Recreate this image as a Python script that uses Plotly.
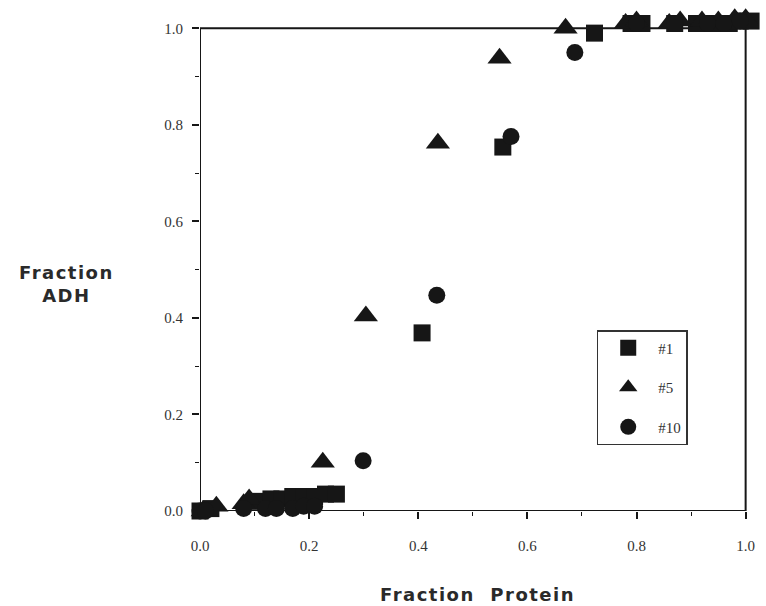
import plotly.graph_objects as go

# Fraction of ADH recovered versus fraction of total protein, three runs
x_run1 = [0.0, 0.02, 0.11, 0.13, 0.15, 0.17, 0.19, 0.21, 0.23, 0.25,
          0.407, 0.555, 0.723, 0.79, 0.81, 0.87, 0.91, 0.94, 0.97, 0.99, 1.01]
y_run1 = [0.0, 0.005, 0.02, 0.025, 0.025, 0.03, 0.03, 0.03, 0.035, 0.035,
          0.369, 0.754, 0.99, 1.01, 1.01, 1.01, 1.01, 1.01, 1.01, 1.015, 1.015]

x_run5 = [0.005, 0.03, 0.08, 0.09, 0.225, 0.304, 0.436, 0.549, 0.67,
          0.78, 0.80, 0.86, 0.88, 0.92, 0.95, 0.98, 1.0]
y_run5 = [0.0, 0.01, 0.015, 0.025, 0.101, 0.404, 0.762, 0.938, 1.0,
          1.01, 1.015, 1.01, 1.015, 1.015, 1.015, 1.02, 1.02]

x_run10 = [0.0, 0.01, 0.08, 0.12, 0.14, 0.17, 0.19, 0.21, 0.299, 0.434,
           0.57, 0.687, 0.8, 0.87, 0.93, 0.96, 0.99]
y_run10 = [0.0, 0.0, 0.005, 0.005, 0.005, 0.005, 0.01, 0.01, 0.104, 0.447,
           0.776, 0.95, 1.01, 1.01, 1.01, 1.01, 1.015]

run_names = ["#1", "#5", "#10"]
tick_vals = [0.0, 0.2, 0.4, 0.6, 0.8, 1.0]

INK = "#161616"
SERIF = "Liberation Serif"

# plot area: 0..1 spans 546 px horizontally and 483 px vertically;
# the ranges run a little past 1.0 so markers sitting on the frame stay visible
X_MAX = 1.03
Y_MAX = 1.04
PX_X = 546
PX_Y = 483

fig = go.Figure()
series = [
    (x_run1, y_run1, "square", 17),
    (x_run5, y_run5, "triangle-up", 21),
    (x_run10, y_run10, "circle", 17),
]
for name, (xs, ys, sym, size) in zip(run_names, series):
    fig.add_trace(go.Scatter(
        x=xs, y=ys, mode="markers", name=name, legendgroup=name,
        marker=dict(symbol=sym, size=size, color=INK, line=dict(width=0)),
        cliponaxis=False,
    ))

axis_common = dict(
    tickvals=tick_vals,
    tickformat=".1f",
    ticks="outside",
    ticklen=7,
    tickwidth=1.5,
    tickcolor=INK,
    showline=False,
    showgrid=False,
    zeroline=False,
    tickfont=dict(family=SERIF, size=15, color="#333333"),
    minor=dict(dtick=0.1, ticks="outside", ticklen=4, tickcolor=INK, tickwidth=1.2),
)

fig.update_xaxes(**axis_common, range=[0, X_MAX], ticklabelstandoff=14)
fig.update_yaxes(**axis_common, range=[0, Y_MAX], ticklabelstandoff=6)

# frame around the unit square
fig.add_shape(type="rect", xref="x", yref="y", x0=0, y0=0, x1=1, y1=1,
              line=dict(color=INK, width=2), layer="below")

title_font = dict(family="DejaVu Sans", size=18, color="#2a2a2a", weight="bold")

fig.update_layout(
    width=766, height=606,
    margin=dict(l=200, r=766 - 200 - round(PX_X * X_MAX),
                t=606 - 95 - round(PX_Y * Y_MAX), b=95),
    paper_bgcolor="white",
    plot_bgcolor="white",
    showlegend=True,
    legend=dict(
        x=(597 - 200) / (PX_X * X_MAX), y=(511 - 330) / (PX_Y * Y_MAX),
        xanchor="left", yanchor="top",
        bordercolor="#333333", borderwidth=1.5, bgcolor="white",
        font=dict(family=SERIF, size=15, color="#333333"),
        tracegroupgap=17,
        itemwidth=50,
        entrywidth=112,
        entrywidthmode="pixels",
        traceorder="grouped",
    ),
    annotations=[
        dict(text='<span style="letter-spacing:1.5px">Fraction</span><br>'
                  '<span style="letter-spacing:1.5px">ADH</span>',
             xref="paper", yref="paper",
             x=(66 - 200) / (PX_X * X_MAX), y=(511 - 284) / (PX_Y * Y_MAX),
             xanchor="center", yanchor="middle", showarrow=False,
             font=title_font),
        dict(text='<span style="letter-spacing:1.5px">Fraction  Protein</span>',
             xref="paper", yref="paper",
             x=(478 - 200) / (PX_X * X_MAX), y=(511 - 595) / (PX_Y * Y_MAX),
             xanchor="center", yanchor="middle", showarrow=False,
             font=title_font),
    ],
)

fig.write_html("out.html")
